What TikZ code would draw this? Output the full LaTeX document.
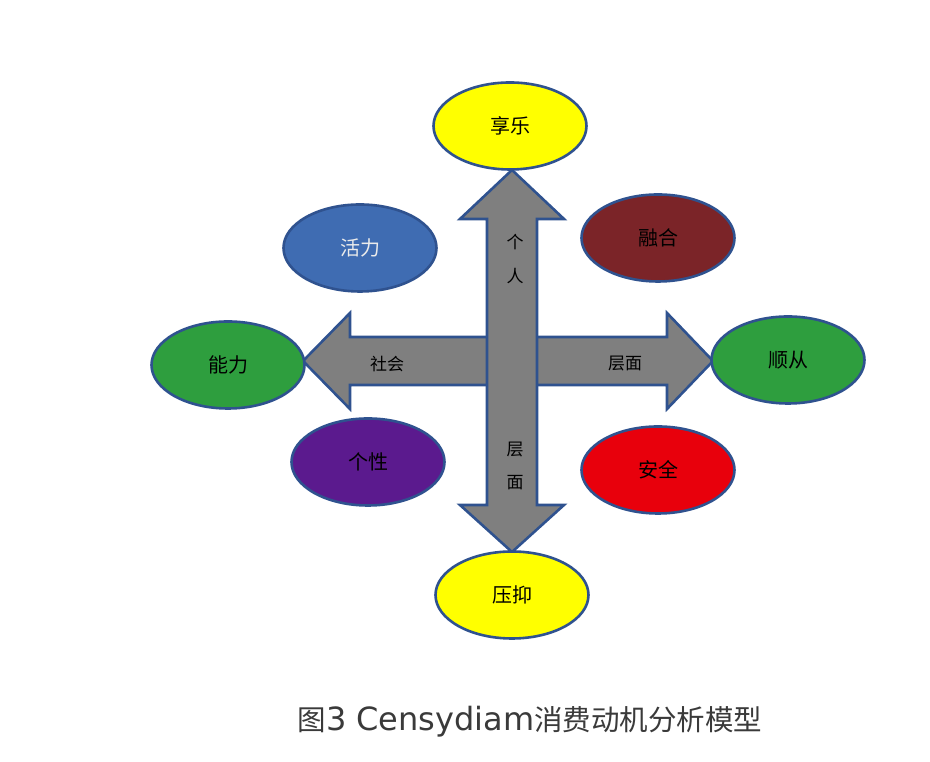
\documentclass[tikz,border=0pt]{standalone}
\usepackage{fontspec}
\setmainfont{Noto Sans CJK SC}
\newfontfamily\latincap{DejaVu Sans}
\usetikzlibrary{shapes.geometric,positioning,calc}
\definecolor{rimcolor}{RGB}{47,82,143}
\definecolor{shaftcolor}{RGB}{127,127,127}
\definecolor{joycolor}{RGB}{255,255,0}
\definecolor{vigorcolor}{RGB}{63,108,178}
\definecolor{blendcolor}{RGB}{123,36,40}
\definecolor{powercolor}{RGB}{46,158,62}
\definecolor{selfcolor}{RGB}{91,26,142}
\definecolor{safecolor}{RGB}{232,0,12}
\definecolor{captioncolor}{RGB}{58,58,58}

\tikzset{
  motive/.style={
    ellipse,
    draw=rimcolor,
    line width=2.6pt,
    minimum width=153pt,
    minimum height=87pt,
    inner sep=0pt,
    font=\fontsize{20}{24}\selectfont
  },
  blockarrow/.style={
    draw=rimcolor,
    fill=shaftcolor,
    line width=2.6pt,
    line join=miter
  },
  axislabel/.style={
    font=\fontsize{17}{20}\selectfont,
    inner sep=0pt
  }
}

\begin{document}
\begin{tikzpicture}[x=1pt,y=1pt]
\useasboundingbox (0,0) rectangle (930,762);

\coordinate (ctr) at (512,401);

% social axis (left / right)
\draw[blockarrow]
  ($(ctr)+(-209,0)$) -- ($(ctr)+(-162,48)$) -- ($(ctr)+(-162,24)$)
  -- ($(ctr)+(155,24)$) -- ($(ctr)+(155,48)$) -- ($(ctr)+(201,0)$)
  -- ($(ctr)+(155,-48)$) -- ($(ctr)+(155,-24)$) -- ($(ctr)+(-162,-24)$)
  -- ($(ctr)+(-162,-48)$) -- cycle;

% personal axis (up / down)
\draw[blockarrow]
  ($(ctr)+(0,191)$) -- ($(ctr)+(52,142)$) -- ($(ctr)+(25,142)$)
  -- ($(ctr)+(25,-144)$) -- ($(ctr)+(52,-144)$) -- ($(ctr)+(0,-191)$)
  -- ($(ctr)+(-52,-144)$) -- ($(ctr)+(-25,-144)$) -- ($(ctr)+(-25,142)$)
  -- ($(ctr)+(-52,142)$) -- cycle;

% axis labels
\node[axislabel] (ge)   at ($(ctr)+(3,119)$) {个};
\node[axislabel] (ren)  at ($(ctr)+(3,85)$)  {人};
\node[axislabel] (ceng) at ($(ctr)+(3,-89)$) {层};
\node[axislabel] (mian) at ($(ctr)+(3,-122)$) {面};
\node[axislabel] (shehui) at ($(ctr)+(-125,-3)$) {社会};
\node[axislabel] (cengmian) at ($(ctr)+(113,-3)$) {层面};

% motives
\node[motive, fill=joycolor]   (xiangle)  at (510,636) {享乐};
\node[motive, fill=vigorcolor, text=white!92!black] (huoli) at (360,514) {活力};
\node[motive, fill=blendcolor] (ronghe)   at (658,524) {融合};
\node[motive, fill=powercolor] (nengli)   at (228,397) {能力};
\node[motive, fill=powercolor] (shuncong) at (788,402) {顺从};
\node[motive, fill=selfcolor]  (gexing)   at (368,300) {个性};
\node[motive, fill=safecolor]  (anquan)   at (658,292) {安全};
\node[motive, fill=joycolor]   (yayi)     at (512,167) {压抑};

% caption
\node[text=captioncolor, font=\fontsize{28.5}{30}\selectfont, inner sep=0pt]
  (caption) at (530,40) {图{\latincap\fontsize{32}{30}\selectfont 3 Censydiam}消费动机分析模型};
\end{tikzpicture}
\end{document}
